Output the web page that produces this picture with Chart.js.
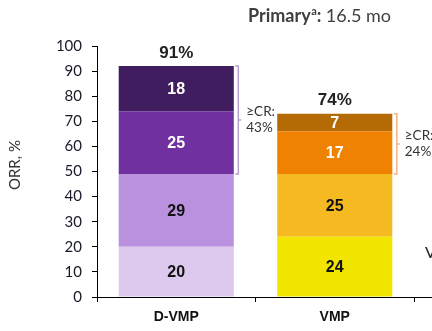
<!DOCTYPE html>
<html>
<head>
<meta charset="utf-8">
<script src="https://cdn.jsdelivr.net/npm/chart.js@4/dist/chart.umd.min.js"></script>
<style>
  html, body { margin: 0; padding: 0; background: #fff; overflow: hidden; width: 432px; height: 331px; }
  canvas { display: block; }
</style>
</head>
<body>
<canvas id="myChart" width="580" height="331"></canvas>
<script>
// categories (third one is cut off at the right edge)
const categories = ["D-VMP", "VMP", ""];
// stacked response segments, bottom to top
const prValues = [20, 24];
const vgprValues = [29, 25];
const crValues = [25, 17];
const scrValues = [18, 7];
const orrLabels = ["91%", "74%"];
const crPlusLabels = ["43%", "24%"];
const yTicks = [0, 10, 20, 30, 40, 50, 60, 70, 80, 90, 100];

const chartOne = document.getElementById("myChart").getContext("2d");

const overlay = {
  id: "overlay",
  afterDatasetsDraw(chart) {
    const ctx = chart.ctx;
    const yScale = chart.scales.y;
    ctx.save();
    // numbers inside the segments
    chart.data.datasets.forEach((ds, i) => {
      chart.getDatasetMeta(i).data.forEach((bar, j) => {
        if (ds.data[j] == null) return;
        ctx.fillStyle = ds.textColor[j];
        ctx.font = "bold 16px 'Liberation Sans'";
        ctx.textAlign = "center";
        ctx.textBaseline = "middle";
        ctx.fillText(String(ds.data[j]), bar.x, (bar.y + bar.base) / 2 + 1);
      });
    });
    // totals, >=CR brackets
    const bracketColors = ["#b9a0d3", "#f4b183"];
    for (let j = 0; j < orrLabels.length; j++) {
      const bar = chart.getDatasetMeta(3).data[j];
      const total = prValues[j] + vgprValues[j] + crValues[j] + scrValues[j];
      const top = yScale.getPixelForValue(total);
      const bottom = yScale.getPixelForValue(prValues[j] + vgprValues[j]);
      ctx.fillStyle = "#222";
      ctx.font = "bold 17px 'Liberation Sans'";
      ctx.textAlign = "center";
      ctx.textBaseline = "middle";
      ctx.fillText(orrLabels[j], bar.x, top - 13);

      const bx = bar.x + bar.width / 2 + 4.5;
      const mid = (top + bottom) / 2;
      ctx.strokeStyle = bracketColors[j];
      ctx.lineWidth = 1.5;
      ctx.beginPath();
      ctx.moveTo(bx - 3, top);
      ctx.lineTo(bx, top);
      ctx.lineTo(bx, bottom);
      ctx.lineTo(bx - 3, bottom);
      ctx.moveTo(bx, mid);
      ctx.lineTo(bx + 3, mid);
      ctx.stroke();

      ctx.fillStyle = "#333";
      ctx.font = "13.5px Lato";
      ctx.textAlign = "left";
      ctx.fillText("\u2265CR:", bx + 8, mid - 8);
      ctx.fillText(crPlusLabels[j], bx + 8, mid + 8);
    }
    // cut-off label in third column
    ctx.fillStyle = "#222";
    ctx.font = "16px Lato";
    ctx.textAlign = "left";
    ctx.fillText("VMP", 425, 253);

    // y axis title
    ctx.save();
    ctx.translate(15, 165);
    ctx.rotate(-Math.PI / 2);
    ctx.font = "15px Lato";
    ctx.fillStyle = "#333";
    ctx.textAlign = "center";
    ctx.textBaseline = "middle";
    ctx.fillText("ORR, %", 0, 0);
    ctx.restore();

    // header: Primary^a: 16.5 mo
    let tx = 248;
    const ty = 22;
    ctx.textAlign = "left";
    ctx.textBaseline = "alphabetic";
    ctx.fillStyle = "#404040";
    ctx.font = "bold 18px Lato";
    ctx.fillText("Primary", tx, ty);
    tx += ctx.measureText("Primary").width + 0.5;
    ctx.font = "bold 11px Lato";
    ctx.fillText("a", tx, ty - 7);
    tx += ctx.measureText("a").width;
    ctx.font = "bold 18px Lato";
    ctx.fillText(":", tx, ty);
    tx += ctx.measureText(": ").width;
    ctx.font = "18px Lato";
    ctx.fillText("16.5 mo", tx, ty);
    ctx.restore();
  },
};

const stackedChart = new Chart(chartOne, {
  type: "bar",
  data: {
    labels: categories,
    datasets: [
      { label: "PR", data: prValues, backgroundColor: ["#ddc9ed", "#f2e600"], textColor: ["#111", "#111"] },
      { label: "VGPR", data: vgprValues, backgroundColor: ["#b991de", "#f5b921"], textColor: ["#111", "#111"] },
      { label: "CR", data: crValues, backgroundColor: ["#7030a0", "#ef8200"], textColor: ["#fff", "#fff"] },
      { label: "sCR", data: scrValues, backgroundColor: ["#3f1d5e", "#b56b05"], textColor: ["#fff", "#fff"] },
    ],
  },
  options: {
    responsive: false,
    animation: false,
    layout: { padding: { top: 46, left: 0, right: 7.5, bottom: 0 } },
    datasets: { bar: { categoryPercentage: 1, barPercentage: 0.726, borderWidth: 0 } },
    plugins: { legend: { display: false }, tooltip: { enabled: false } },
    scales: {
      x: {
        stacked: true,
        border: { color: "#000", width: 1 },
        grid: { drawOnChartArea: false, tickLength: 5, color: "#000" },
        ticks: { color: "#111", padding: 7, font: { family: "'Liberation Sans'", size: 14, weight: "bold" } },
        afterFit: (s) => { s.height = 34; },
      },
      y: {
        stacked: true,
        min: 0,
        max: 100,
        border: { color: "#000", width: 1 },
        grid: { drawOnChartArea: false, tickLength: 5, color: "#000" },
        afterBuildTicks: (s) => { s.ticks = yTicks.map((v) => ({ value: v })); },
        ticks: { color: "#1a1a2a", padding: 10, font: { family: "Lato", size: 15 } },
        afterFit: (s) => { s.width = 97; },
      },
    },
  },
  plugins: [overlay],
});
</script>
</body>
</html>
